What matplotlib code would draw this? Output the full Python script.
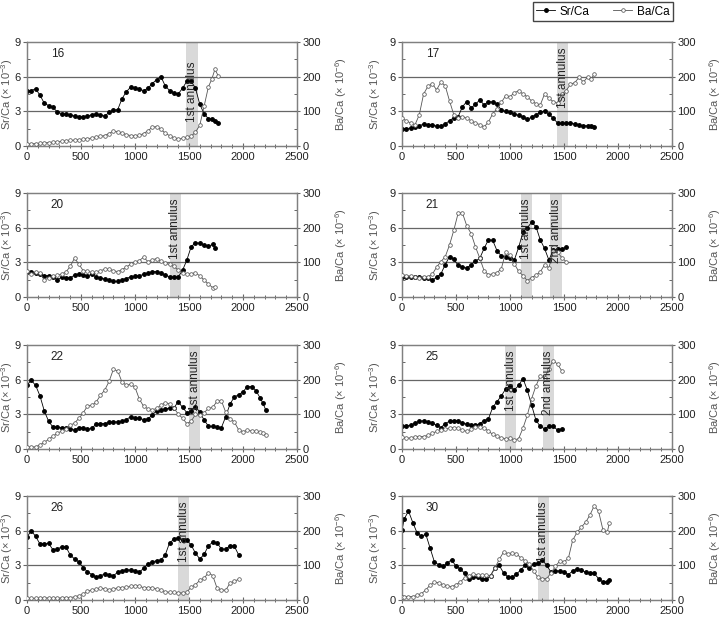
import matplotlib
matplotlib.use('Agg')
import matplotlib.pyplot as plt
from matplotlib.ticker import MultipleLocator
from matplotlib.lines import Line2D

plt.rcParams['font.family'] = ['Liberation Sans', 'DejaVu Sans']
plt.rcParams['mathtext.fontset'] = 'custom'
plt.rcParams['mathtext.rm'] = 'Liberation Sans'
plt.rcParams['mathtext.it'] = 'Liberation Sans:italic'
plt.rcParams['mathtext.bf'] = 'Liberation Sans:bold'

# distance from core (um), Sr/Ca (x 10^-3), Ba/Ca (x 10^-6) for each fish
x16 = [0, 40, 80, 120, 160, 200, 240, 280, 320, 360, 400, 440, 480, 520, 560, 600, 640, 680, 720, 760,
       800, 840, 880, 920, 960, 1000, 1040, 1080, 1120, 1160, 1200, 1240, 1280, 1320, 1360, 1400, 1440,
       1480, 1520, 1560, 1600, 1640, 1680, 1710, 1740, 1770]
sr16 = [4.75, 4.8, 4.95, 4.4, 3.7, 3.5, 3.35, 2.95, 2.8, 2.75, 2.65, 2.6, 2.5, 2.55, 2.6, 2.7, 2.8, 2.65,
        2.6, 2.9, 3.1, 3.15, 4.1, 4.7, 5.1, 5.0, 4.9, 4.8, 5.0, 5.4, 5.75, 6.0, 5.2, 4.8, 4.6, 4.5, 5.0,
        5.6, 5.6, 5.0, 3.6, 2.8, 2.35, 2.35, 2.15, 1.95]
ba16 = [5, 6, 7, 8, 9, 10, 11, 12, 13, 15, 16, 17, 18, 20, 21, 23, 26, 28, 30, 36, 43, 41, 37, 33, 30,
        29, 31, 36, 44, 54, 56, 48, 37, 30, 24, 20, 22, 25, 28, 40, 60, 115, 171, 192, 221, 203]

x17 = [0, 40, 80, 120, 160, 200, 240, 280, 320, 360, 400, 440, 480, 520, 560, 600, 640, 680, 720, 760,
       800, 840, 880, 920, 960, 1000, 1040, 1080, 1120, 1160, 1200, 1240, 1280, 1320, 1360, 1400, 1440,
       1480, 1520, 1560, 1600, 1640, 1680, 1720, 1750, 1780]
sr17 = [1.5, 1.5, 1.55, 1.65, 1.75, 1.9, 1.85, 1.85, 1.7, 1.7, 1.9, 2.2, 2.45, 2.55, 3.4, 3.85, 3.3, 3.6,
        4.0, 3.55, 3.85, 3.8, 3.65, 3.1, 3.0, 2.9, 2.75, 2.65, 2.5, 2.3, 2.5, 2.7, 2.9, 3.05, 2.75, 2.4,
        2.0, 1.95, 1.95, 2.0, 1.9, 1.8, 1.75, 1.75, 1.7, 1.65]
ba17 = [80, 73, 66, 61, 90, 150, 172, 180, 162, 184, 174, 130, 90, 82, 85, 80, 73, 66, 62, 55, 69, 93,
        108, 126, 145, 142, 154, 159, 150, 142, 130, 122, 118, 150, 138, 128, 124, 150, 160, 178, 183,
        198, 184, 200, 192, 208]

x20 = [0, 40, 80, 120, 160, 200, 240, 280, 320, 360, 400, 440, 480, 520, 560, 600, 640, 680, 720, 760,
       800, 840, 880, 920, 960, 1000, 1040, 1080, 1120, 1160, 1200, 1240, 1280, 1320, 1360, 1400, 1440,
       1480, 1520, 1560, 1600, 1640, 1680, 1720, 1745]
sr20 = [2.2, 2.15, 2.1, 1.95, 1.85, 1.85, 1.75, 1.5, 1.7, 1.65, 1.65, 1.9, 2.0, 1.9, 1.85, 1.95, 1.75,
        1.65, 1.55, 1.45, 1.35, 1.35, 1.5, 1.6, 1.75, 1.8, 1.85, 1.95, 2.05, 2.2, 2.2, 2.05, 1.9, 1.75,
        1.7, 1.75, 2.3, 3.2, 4.35, 4.7, 4.65, 4.5, 4.4, 4.55, 4.2]
ba20 = [75, 66, 73, 68, 50, 54, 60, 63, 66, 72, 88, 112, 95, 76, 74, 71, 71, 76, 80, 80, 76, 73, 79, 86,
        95, 101, 105, 115, 102, 107, 111, 103, 97, 94, 88, 78, 70, 66, 67, 70, 61, 49, 37, 27, 30]

x21 = [0, 40, 80, 120, 160, 200, 240, 280, 320, 360, 400, 440, 480, 520, 560, 600, 640, 680, 720, 760,
       800, 840, 880, 920, 960, 1000, 1040, 1080, 1120, 1160, 1200, 1240, 1280, 1320, 1360, 1400, 1440,
       1480, 1520]
sr21 = [1.76, 1.76, 1.76, 1.75, 1.72, 1.68, 1.63, 1.45, 1.7, 2.0, 2.8, 3.5, 3.25, 2.75, 2.6, 2.5, 2.8,
        3.1, 3.35, 4.2, 4.95, 4.9, 4.0, 3.55, 3.45, 3.35, 3.2, 4.3, 5.6, 6.0, 6.45, 6.1, 4.95, 4.2, 3.2,
        4.05, 4.15, 4.15, 4.3]
ba21 = [64, 62, 60, 58, 56, 59, 59, 65, 86, 102, 116, 150, 193, 242, 242, 205, 183, 145, 112, 76, 64, 67,
        70, 82, 129, 120, 96, 74, 62, 47, 56, 63, 72, 93, 84, 132, 130, 113, 102]

x22 = [0, 40, 80, 120, 160, 200, 240, 280, 320, 360, 400, 440, 480, 520, 560, 600, 640, 680, 720, 760,
       800, 840, 880, 920, 960, 1000, 1040, 1080, 1120, 1160, 1200, 1240, 1280, 1320, 1360, 1400, 1440,
       1480, 1520, 1560, 1600, 1640, 1680, 1720, 1760, 1800, 1840, 1880, 1920, 1960, 2000, 2040, 2080,
       2120, 2160, 2185, 2210]
sr22 = [5.55, 5.95, 5.5, 4.6, 3.3, 2.4, 1.9, 1.9, 1.85, 1.8, 1.7, 1.65, 1.85, 1.85, 1.7, 1.8, 2.15, 2.2,
        2.2, 2.3, 2.35, 2.35, 2.4, 2.55, 2.8, 2.65, 2.65, 2.55, 2.6, 2.95, 3.3, 3.4, 3.45, 3.55, 3.55, 4.1,
        3.6, 3.15, 3.25, 3.65, 3.2, 2.5, 1.98, 1.95, 1.9, 1.85, 2.8, 3.9, 4.5, 4.7, 4.95, 5.4, 5.4, 5.05,
        4.4, 3.95, 3.4]
ba22 = [6, 6, 6, 12, 19, 28, 37, 45, 52, 59, 68, 75, 88, 104, 124, 126, 135, 155, 170, 195, 230, 225,
        193, 184, 187, 178, 144, 123, 116, 113, 117, 126, 134, 130, 118, 101, 89, 73, 80, 100, 97, 105,
        117, 120, 138, 139, 106, 87, 78, 55, 50, 54, 52, 51, 49, 46, 40]

x25 = [0, 40, 80, 120, 160, 200, 240, 280, 320, 360, 400, 440, 480, 520, 560, 600, 640, 680, 720, 760,
       800, 840, 880, 920, 960, 1000, 1040, 1080, 1120, 1160, 1200, 1240, 1280, 1320, 1360, 1400, 1440,
       1480]
sr25 = [1.95, 2.0, 2.05, 2.25, 2.4, 2.45, 2.3, 2.25, 2.05, 1.85, 2.2, 2.4, 2.45, 2.45, 2.25, 2.15, 2.05,
        2.05, 2.2, 2.45, 2.6, 3.6, 4.1, 4.6, 5.2, 5.45, 5.1, 5.5, 6.1, 5.1, 3.8, 2.5, 1.95, 1.75, 1.95,
        1.95, 1.65, 1.75]
ba25 = [34, 31, 32, 35, 36, 36, 39, 45, 51, 54, 57, 61, 62, 60, 54, 51, 57, 64, 64, 61, 52, 42, 37, 32,
        30, 31, 26, 30, 60, 97, 145, 182, 210, 204, 232, 255, 245, 225]

x26 = [0, 40, 80, 120, 160, 200, 240, 280, 320, 360, 400, 440, 480, 520, 560, 600, 640, 680, 720, 760,
       800, 840, 880, 920, 960, 1000, 1040, 1080, 1120, 1160, 1200, 1240, 1280, 1320, 1360, 1400, 1440,
       1480, 1520, 1560, 1600, 1640, 1680, 1720, 1760, 1800, 1840, 1880, 1920, 1960]
sr26 = [5.45, 6.0, 5.5, 4.85, 4.85, 4.9, 4.35, 4.4, 4.6, 4.6, 3.9, 3.55, 3.3, 2.8, 2.45, 2.2, 2.0, 2.1,
        2.25, 2.15, 2.1, 2.4, 2.55, 2.6, 2.6, 2.55, 2.4, 2.75, 3.1, 3.3, 3.4, 3.45, 3.9, 4.95, 5.25, 5.4,
        5.15, 5.2, 4.75, 4.05, 3.55, 3.95, 4.7, 5.0, 4.95, 4.4, 4.4, 4.7, 4.65, 3.9]
ba26 = [5, 5, 5, 6, 6, 6, 5, 6, 6, 7, 7, 9, 12, 17, 25, 29, 31, 35, 32, 30, 32, 35, 36, 37, 39, 41, 41,
        35, 36, 35, 32, 28, 24, 22, 22, 21, 20, 23, 37, 44, 57, 63, 79, 70, 34, 29, 28, 49, 54, 60]

x30 = [0, 20, 60, 100, 140, 180, 220, 260, 300, 340, 380, 420, 460, 500, 540, 580, 620, 660, 700, 740,
       780, 820, 860, 900, 940, 980, 1020, 1060, 1100, 1140, 1180, 1220, 1260, 1300, 1340, 1380, 1420,
       1460, 1500, 1540, 1580, 1620, 1660, 1700, 1740, 1780, 1820, 1860, 1900, 1920]
sr30 = [6.05, 7.0, 7.7, 6.7, 5.8, 5.5, 5.7, 4.5, 3.3, 3.05, 2.9, 3.2, 3.5, 2.9, 2.7, 2.3, 1.8, 2.0, 1.95,
        1.8, 1.8, 2.1, 2.8, 3.0, 2.35, 2.0, 1.95, 2.25, 2.6, 3.0, 2.75, 3.1, 3.2, 3.45, 3.0, 2.4, 2.55,
        2.5, 2.4, 2.2, 2.5, 2.7, 2.6, 2.4, 2.35, 2.3, 1.85, 1.55, 1.6, 1.7]
ba30 = [10, 10, 10, 10, 13, 18, 29, 43, 51, 50, 43, 41, 38, 44, 52, 64, 70, 75, 73, 71, 72, 70, 92, 117,
        138, 134, 135, 134, 121, 113, 104, 83, 65, 61, 62, 78, 97, 112, 110, 120, 172, 195, 210, 224,
        245, 272, 256, 203, 195, 222]

# annulus bands (start, end, label)
ann16 = [(1475, 1580, '1st annulus')]
ann17 = [(1436, 1540, '1st annulus')]
ann20 = [(1321, 1422, '1st annulus')]
ann21 = [(1098, 1206, '1st annulus'), (1369, 1477, '2nd annulus')]
ann22 = [(1502, 1605, '1st annulus')]
ann25 = [(957, 1055, '1st annulus'), (1304, 1405, '2nd annulus')]
ann26 = [(1399, 1500, '1st annulus')]
ann30 = [(1261, 1359, '1st annulus')]

panels = [('16', x16, sr16, ba16, ann16), ('17', x17, sr17, ba17, ann17),
          ('20', x20, sr20, ba20, ann20), ('21', x21, sr21, ba21, ann21),
          ('22', x22, sr22, ba22, ann22), ('25', x25, sr25, ba25, ann25),
          ('26', x26, sr26, ba26, ann26), ('30', x30, sr30, ba30, ann30)]

fig = plt.figure(figsize=(7.26, 6.23), dpi=100)
lefts = [27 / 726, 402 / 726]
bottoms = [1 - 146 / 623, 1 - 297 / 623, 1 - 449 / 623, 1 - 600 / 623]
w, h = 270 / 726, 104 / 623
spine_c = '#808080'
lab_top = {'16': 7.3}

for i, (name, x, sr, ba, ann) in enumerate(panels):
    col = i % 2
    ax = fig.add_axes([lefts[col], bottoms[i // 2], w, h])
    ax2 = ax.twinx()

    for a, b, txt in ann:
        ax.axvspan(a, b, color='#d9d9d9', lw=0, zorder=0)
        ax2.text((a + b) / 2, lab_top.get(name, 8.5) / 9 * 300, txt, rotation=90, ha='center', va='top',
                 fontsize=8.5, color='#222222', zorder=6)
    ax.axhline(3, color='#666666', lw=0.9, zorder=1)
    ax.axhline(6, color='#666666', lw=0.9, zorder=1)

    ax.plot(x, sr, color='black', lw=0.6, marker='o', ms=2.5, mfc='black', mec='black', zorder=3)
    ax2.plot(x, ba, color='#555555', lw=0.6, marker='o', ms=2.6, mfc='white', mec='#555555', mew=0.55,
             zorder=3)

    ax.set_xlim(0, 2500)
    ax.set_ylim(0, 9)
    ax2.set_ylim(0, 300)
    ax.set_xticks(range(0, 2501, 500))
    ax.xaxis.set_minor_locator(MultipleLocator(100))
    ax.set_yticks([0, 3, 6, 9])
    ax.yaxis.set_minor_locator(MultipleLocator(1.5))
    ax2.set_yticks([0, 100, 200, 300])
    ax2.yaxis.set_minor_locator(MultipleLocator(50))

    ax.tick_params(axis='x', which='major', direction='inout', length=5, width=0.8, colors='#666666',
                   labelcolor='#222222', labelsize=8, pad=2)
    ax.tick_params(axis='x', which='minor', direction='inout', length=3, width=0.7, colors='#666666')
    ax.tick_params(axis='y', which='major', direction='out', length=3, width=0.8, colors='#666666',
                   labelcolor='#222222', labelsize=8, pad=1.5)
    ax.tick_params(axis='y', which='minor', direction='in', length=2.5, width=0.7, colors='#666666')
    ax2.tick_params(axis='y', which='major', direction='inout', length=5, width=0.8, colors='#666666',
                    labelcolor='#222222', labelsize=8, pad=1.5)
    ax2.tick_params(axis='y', which='minor', direction='in', length=2.5, width=0.7, colors='#666666')

    for a in (ax, ax2):
        for s in a.spines.values():
            s.set_color(spine_c)
            s.set_linewidth(0.9)

    ax.text(280, 8.0, name, ha='center', va='center', fontsize=8.5, color='#222222')

    ax.set_ylabel(r'Sr/Ca (× 10$^{-3}$)', fontsize=8, color='#555555')
    ax2.set_ylabel(r'Ba/Ca (× 10$^{-6}$)', fontsize=8, color='#555555')
    ax.yaxis.set_label_coords(-0.045 if col == 0 else -0.07, 0.5)
    ax2.yaxis.set_label_coords(1.133 if col == 0 else 1.129, 0.5)

handles = [Line2D([], [], color='black', lw=0.6, marker='o', ms=2.5, mfc='black', mec='black'),
           Line2D([], [], color='#555555', lw=0.6, marker='o', ms=2.6, mfc='white', mec='#555555', mew=0.55)]
fig.legend(handles, ['Sr/Ca', 'Ba/Ca'], loc='upper right', bbox_to_anchor=(673 / 726, 1 - 2 / 623),
           ncol=2, fontsize=8.5, frameon=True, fancybox=False, edgecolor='#444444', framealpha=1,
           borderpad=0.3, handlelength=1.6, handletextpad=0.4, columnspacing=2.0, borderaxespad=0)

fig.savefig('out.png', dpi=100)
